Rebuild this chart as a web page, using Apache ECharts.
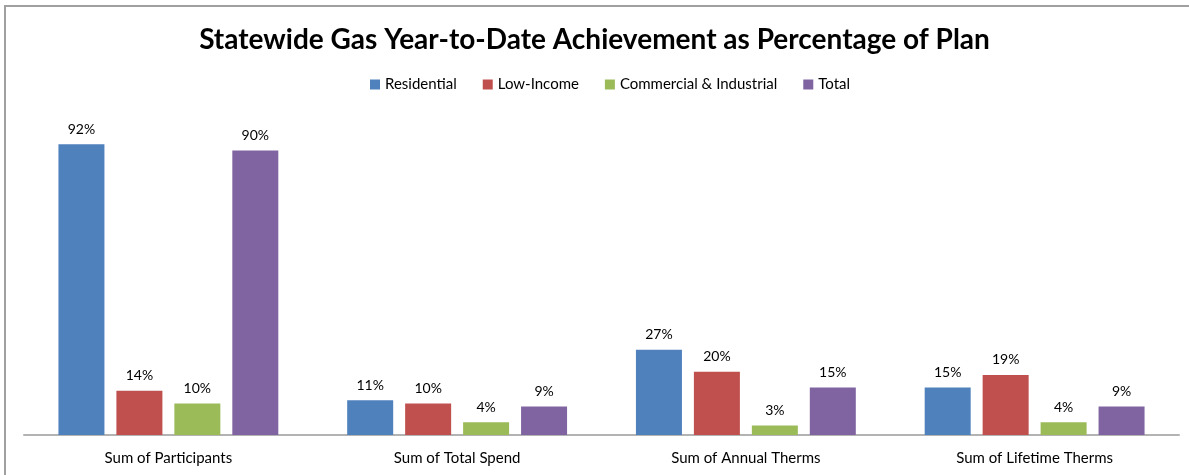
<!DOCTYPE html>
<html>
<head>
<meta charset="utf-8">
<script src="https://cdn.jsdelivr.net/npm/echarts@6/dist/echarts.min.js"></script>
<style>
  html, body { margin: 0; padding: 0; background: #fff; }
  #frame {
    position: absolute; left: 4px; top: 5px; width: 1200px; height: 500px;
    border-left: 2px solid #a0a0a0; border-top: 2px solid #a0a0a0;
    box-sizing: border-box;
  }
  #chart { position: absolute; left: 0; top: 0; width: 1189px; height: 475px; }
</style>
</head>
<body>
<div id="frame"></div>
<div id="chart"></div>
<script>
// categories and values
const categories = ['Sum of Participants', 'Sum of Total Spend', 'Sum of Annual Therms', 'Sum of Lifetime Therms'];
const residential = [92, 11, 27, 15];
const lowIncome = [14, 10, 20, 19];
const commercial = [10, 4, 3, 4];
const total = [90, 9, 15, 9];

const seriesNames = ['Residential', 'Low-Income', 'Commercial & Industrial', 'Total'];
const seriesData = [residential, lowIncome, commercial, total];
const colors = ['#4F81BD', '#C0504D', '#9BBB59', '#8064A2'];

const font = 'Lato, "Open Sans", sans-serif';

const chart = echarts.init(document.getElementById('chart'));
chart.setOption({
  animation: false,
  title: {
    text: 'Statewide Gas Year-to-Date Achievement as Percentage of Plan',
    left: 'center',
    top: 21,
    textStyle: { fontFamily: font, fontSize: 28, fontWeight: 'bold', color: '#000' }
  },
  legend: {
    top: 72,
    left: 365,
    itemWidth: 10,
    itemHeight: 10,
    itemGap: 26,
    icon: 'rect',
    textStyle: { fontFamily: font, fontSize: 15, color: '#000' },
    data: seriesNames
  },
  grid: { left: 24, right: 10, top: 119, bottom: 40 },
  xAxis: {
    type: 'category',
    data: categories,
    axisLine: { lineStyle: { color: '#b3b3b3', width: 2 } },
    axisTick: { show: false },
    axisLabel: { fontFamily: font, fontSize: 15, color: '#000', margin: 16 }
  },
  yAxis: {
    type: 'value',
    min: 0,
    max: 100,
    show: false,
    splitLine: { show: false }
  },
  series: seriesNames.map((name, i) => ({
    name: name,
    type: 'bar',
    data: seriesData[i],
    barWidth: 46,
    barGap: '26%',
    itemStyle: { color: colors[i] },
    label: {
      show: true,
      position: 'top',
      distance: 8,
      formatter: '{c}%',
      fontFamily: font,
      fontSize: 14,
      color: '#000'
    }
  }))
});
</script>
</body>
</html>
